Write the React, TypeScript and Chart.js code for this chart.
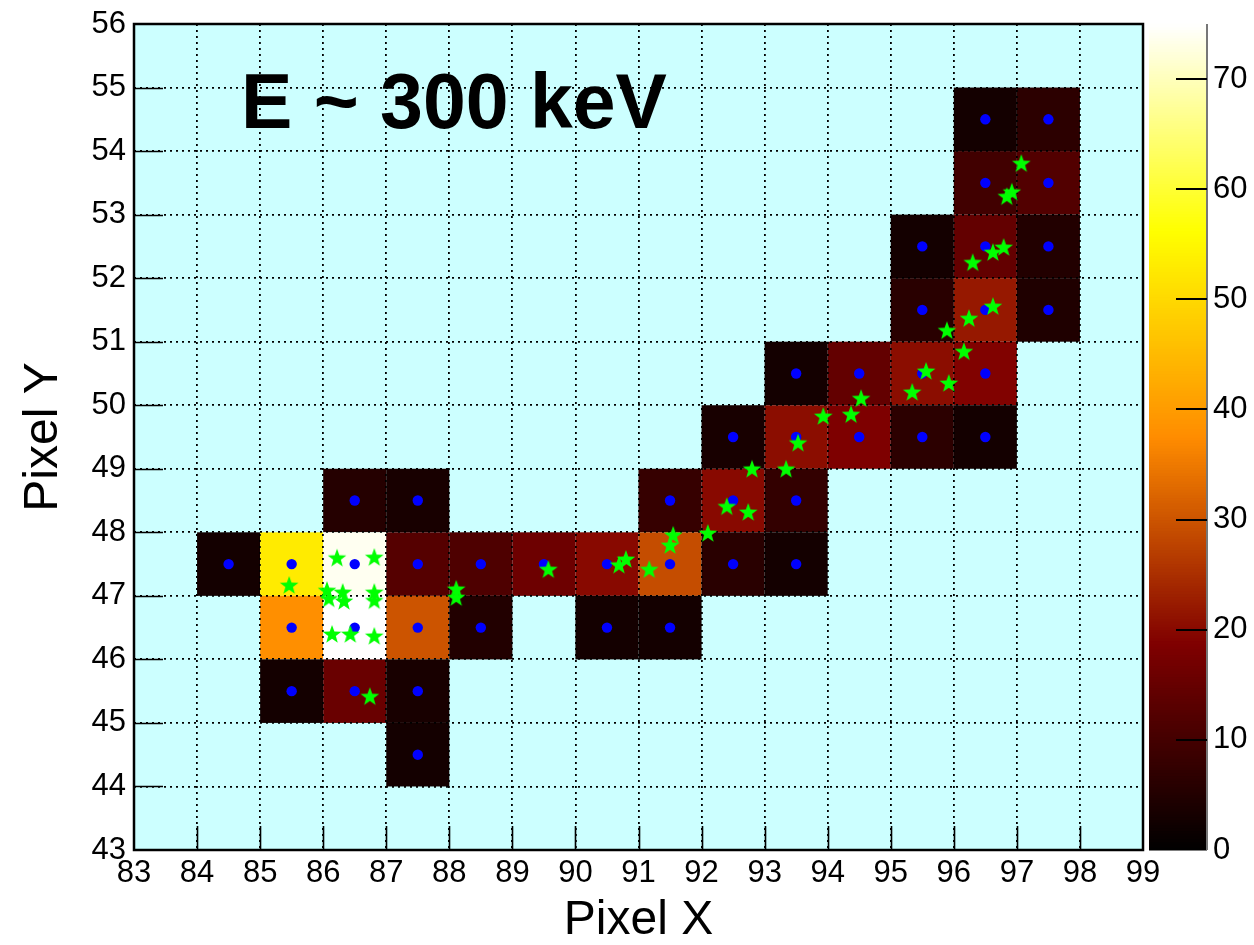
import React, { useEffect, useRef } from "react";
import { Chart, registerables } from "chart.js";

Chart.register(...registerables);

const FONT = "'Liberation Sans', Arial, Helvetica, sans-serif";

// Axis ranges of the pixel map
const X_MIN = 83;
const X_MAX = 99;
const Y_MIN = 43;
const Y_MAX = 56;
const Z_MAX = 75;
const Z_STEP = 10;

const titleText = "E ~ 300 keV";
const xTitle = "Pixel X";
const yTitle = "Pixel Y";

// Fired pixels: bin centres and collected charge
const cellX = [
  96.5, 97.5,
  96.5, 97.5,
  95.5, 96.5, 97.5,
  95.5, 96.5, 97.5,
  93.5, 94.5, 95.5, 96.5,
  92.5, 93.5, 94.5, 95.5, 96.5,
  86.5, 87.5, 91.5, 92.5, 93.5,
  84.5, 85.5, 86.5, 87.5, 88.5, 89.5, 90.5, 91.5, 92.5, 93.5,
  85.5, 86.5, 87.5, 88.5, 90.5, 91.5,
  85.5, 86.5, 87.5,
  87.5,
];
const cellY = [
  54.5, 54.5,
  53.5, 53.5,
  52.5, 52.5, 52.5,
  51.5, 51.5, 51.5,
  50.5, 50.5, 50.5, 50.5,
  49.5, 49.5, 49.5, 49.5, 49.5,
  48.5, 48.5, 48.5, 48.5, 48.5,
  47.5, 47.5, 47.5, 47.5, 47.5, 47.5, 47.5, 47.5, 47.5, 47.5,
  46.5, 46.5, 46.5, 46.5, 46.5, 46.5,
  45.5, 45.5, 45.5,
  44.5,
];
const cellCounts = [
  3, 6.5,
  9.5, 12,
  3, 14.5, 5,
  6, 22, 4.5,
  3, 14.5, 20.5, 19,
  3.5, 20.5, 18.5, 6.5, 3,
  5.5, 3.5, 8, 20, 7.5,
  3, 53, 74, 12.5, 11.5, 16, 20, 29, 6, 3,
  38, 75, 30, 5, 3, 3,
  3, 15.5, 3.5,
  3,
];

// Reconstructed track points
const starX = [
  85.46, 86.22, 86.81, 86.06, 86.31, 86.81, 86.09, 86.33, 86.81, 86.14,
  86.43, 86.81, 86.74, 88.11, 88.11, 89.57, 90.69, 90.8, 91.17, 91.5,
  91.55, 92.1, 92.4, 92.74, 92.8, 93.34, 93.53, 93.93, 94.37, 94.53,
  95.34, 95.56, 95.92, 96.16, 95.89, 96.24, 96.62, 96.3, 96.62, 96.79,
  96.84, 96.92, 97.07,
];
const starY = [
  47.17, 47.6, 47.61, 47.09, 47.06, 47.06, 46.96, 46.92, 46.93, 46.4,
  46.4, 46.37, 45.42, 47.11, 46.98, 47.42, 47.49, 47.58, 47.42, 47.8,
  47.96, 47.99, 48.41, 48.32, 49.0, 49.0, 49.41, 49.83, 49.86, 50.11,
  50.21, 50.54, 50.35, 50.85, 51.18, 51.37, 51.56, 52.25, 52.41, 52.49,
  53.29, 53.36, 53.81,
];

// Dark body radiator palette: black -> red -> orange -> yellow -> white
const paletteStops = [0, 0.25, 0.5, 0.75, 1];
const paletteR = [0, 0.5, 1, 1, 1];
const paletteG = [0, 0, 0.55, 1, 1];
const paletteB = [0, 0, 0, 0, 1];

function colorFor(v: number): string {
  const t = Math.max(0, Math.min(1, v / Z_MAX));
  let i = 0;
  while (i < paletteStops.length - 2 && t > paletteStops[i + 1]) i++;
  const f = (t - paletteStops[i]) / (paletteStops[i + 1] - paletteStops[i]);
  const mix = (a: number[]) => Math.round(255 * (a[i] + (a[i + 1] - a[i]) * f));
  return `rgb(${mix(paletteR)},${mix(paletteG)},${mix(paletteB)})`;
}

function makeStar(): HTMLCanvasElement {
  const c = document.createElement("canvas");
  c.width = 22;
  c.height = 22;
  const g = c.getContext("2d")!;
  const cx = 11;
  const cy = 11.8;
  const R = 9.8;
  const r = 4.0;
  g.beginPath();
  for (let k = 0; k < 10; k++) {
    const a = -Math.PI / 2 + (k * Math.PI) / 5;
    const rad = k % 2 === 0 ? R : r;
    const px = cx + rad * Math.cos(a);
    const py = cy + rad * Math.sin(a);
    if (k === 0) g.moveTo(px, py);
    else g.lineTo(px, py);
  }
  g.closePath();
  g.fillStyle = "#00ff00";
  g.fill();
  return c;
}

const mapPlugin = {
  id: "pixelMap",
  beforeDraw(chart: any) {
    const { ctx, chartArea: a, scales } = chart;
    const xs = scales.x;
    const ys = scales.y;
    ctx.save();
    ctx.fillStyle = "#ffffff";
    ctx.fillRect(0, 0, chart.width, chart.height);
    ctx.fillStyle = "#ccffff";
    ctx.fillRect(a.left, a.top, a.right - a.left, a.bottom - a.top);
    for (let i = 0; i < cellX.length; i++) {
      const x0 = xs.getPixelForValue(cellX[i] - 0.5);
      const x1 = xs.getPixelForValue(cellX[i] + 0.5);
      const y0 = ys.getPixelForValue(cellY[i] + 0.5);
      const y1 = ys.getPixelForValue(cellY[i] - 0.5);
      ctx.fillStyle = colorFor(cellCounts[i]);
      ctx.fillRect(x0, y0, x1 - x0, y1 - y0);
    }
    ctx.fillStyle = "#000000";
    ctx.font = `bold 77px ${FONT}`;
    ctx.textAlign = "left";
    ctx.textBaseline = "alphabetic";
    ctx.fillText(titleText, a.left + 107, a.top + 104);
    ctx.restore();
  },
  afterDraw(chart: any) {
    const { ctx, chartArea: a, scales } = chart;
    const xs = scales.x;
    const ys = scales.y;
    const zs = scales.z;
    ctx.save();
    // inward tick marks
    ctx.strokeStyle = "#000";
    ctx.lineWidth = 1.6;
    ctx.beginPath();
    for (let v = X_MIN + 1; v < X_MAX; v++) {
      const px = Math.round(xs.getPixelForValue(v)) + 0.5;
      ctx.moveTo(px, a.bottom);
      ctx.lineTo(px, a.bottom - 24);
    }
    for (let v = Y_MIN + 1; v < Y_MAX; v++) {
      const py = Math.round(ys.getPixelForValue(v)) + 0.5;
      ctx.moveTo(a.left, py);
      ctx.lineTo(a.left + 29, py);
    }
    ctx.stroke();
    // frame
    ctx.lineWidth = 2.5;
    ctx.strokeRect(a.left, a.top, a.right - a.left, a.bottom - a.top);

    // colour scale
    const bl = zs.left + 6;
    const br = zs.left + 64;
    const dz = 0.25;
    for (let v = 0; v < Z_MAX; v += dz) {
      const yb = zs.getPixelForValue(v);
      const yt = zs.getPixelForValue(Math.min(Z_MAX, v + dz));
      ctx.fillStyle = colorFor(v + dz / 2);
      ctx.fillRect(bl, yt - 0.5, br - bl, yb - yt + 1);
    }
    ctx.strokeStyle = "#777";
    ctx.lineWidth = 2;
    ctx.beginPath();
    ctx.moveTo(br, zs.getPixelForValue(Z_MAX));
    ctx.lineTo(br, zs.getPixelForValue(0));
    ctx.stroke();
    ctx.strokeStyle = "#000";
    ctx.lineWidth = 2;
    ctx.beginPath();
    for (let v = Z_STEP; v < Z_MAX; v += Z_STEP) {
      const py = Math.round(zs.getPixelForValue(v));
      ctx.moveTo(br - 31, py);
      ctx.lineTo(br, py);
    }
    ctx.stroke();
    ctx.restore();
  },
};

export default function App() {
  const ref = useRef<HTMLCanvasElement | null>(null);

  useEffect(() => {
    if (!ref.current) return;
    const star = makeStar();
    const hits = cellX.map((x, i) => ({ x, y: cellY[i] }));
    const track = starX.map((x, i) => ({ x, y: starY[i] }));
    const tickFont = { family: FONT, size: 31 };

    const chart = new Chart(ref.current, {
      type: "scatter",
      data: {
        datasets: [
          {
            label: "track",
            data: track,
            pointStyle: star as any,
            pointRadius: 10,
            showLine: false,
          },
          {
            label: "hits",
            data: hits,
            pointStyle: "circle",
            pointRadius: 5.2,
            backgroundColor: "#0000ff",
            borderWidth: 0,
            showLine: false,
          },
        ],
      },
      options: {
        responsive: false,
        animation: false,
        events: [],
        layout: { padding: { top: 24, left: 0, right: 0, bottom: 0 } },
        plugins: {
          legend: { display: false },
          tooltip: { enabled: false },
        },
        scales: {
          x: {
            type: "linear",
            position: "bottom",
            min: X_MIN,
            max: X_MAX,
            afterFit: (s: any) => {
              s.height = 95;
              s.paddingLeft = 0;
              s.paddingRight = 0;
            },
            ticks: {
              stepSize: 1,
              autoSkip: false,
              maxRotation: 0,
              includeBounds: false,
              padding: 5,
              color: "#000",
              font: tickFont,
            },
            grid: {
              color: "#000",
              lineWidth: 1.8,
              drawTicks: false,
            },
            border: { display: false, dash: [2, 4] },
            title: {
              display: true,
              text: xTitle,
              color: "#000",
              font: { family: FONT, size: 48, lineHeight: 1 },
              padding: 0,
            },
          },
          y: {
            type: "linear",
            position: "left",
            min: Y_MIN,
            max: Y_MAX,
            afterFit: (s: any) => {
              s.width = 134;
              s.paddingTop = 0;
              s.paddingBottom = 0;
            },
            ticks: {
              stepSize: 1,
              autoSkip: false,
              includeBounds: false,
              padding: 8,
              color: "#000",
              font: tickFont,
            },
            grid: {
              color: "#000",
              lineWidth: 1.8,
              drawTicks: false,
            },
            border: { display: false, dash: [2, 4] },
            title: {
              display: true,
              text: yTitle,
              color: "#000",
              font: { family: FONT, size: 48, lineHeight: 1 },
              padding: { top: 20, bottom: 0 },
            },
          },
          z: {
            type: "linear",
            position: "right",
            min: 0,
            max: Z_MAX,
            afterFit: (s: any) => {
              s.width = 111;
              s.paddingTop = 0;
              s.paddingBottom = 0;
            },
            ticks: {
              stepSize: Z_STEP,
              includeBounds: false,
              padding: 70,
              color: "#000",
              font: tickFont,
            },
            grid: { drawOnChartArea: false, drawTicks: false },
            border: { display: false },
          },
        },
      },
      plugins: [mapPlugin],
    } as any);

    return () => chart.destroy();
  }, []);

  return (
    <div style={{ position: "absolute", left: 0, top: 0, width: 1254, height: 945 }}>
      <canvas ref={ref} width={1254} height={945} style={{ display: "block" }} />
    </div>
  );
}
